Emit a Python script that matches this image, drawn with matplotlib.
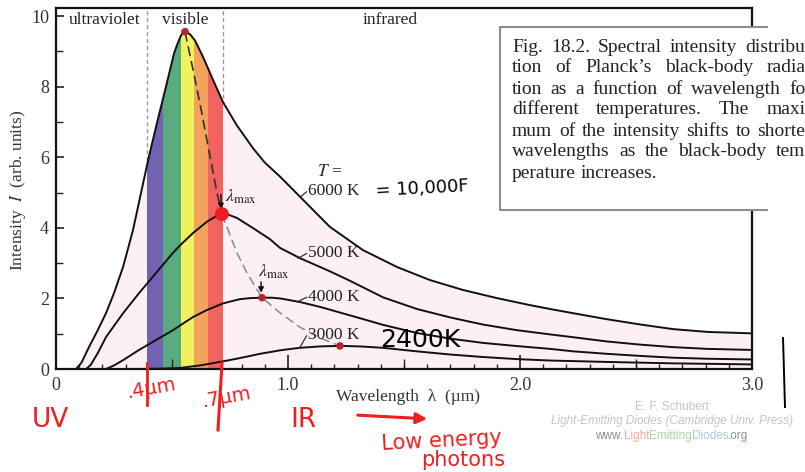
import matplotlib
matplotlib.use('Agg')
import numpy as np
import matplotlib.pyplot as plt

plt.rcParams['font.family'] = ['Liberation Serif', 'DejaVu Serif']
plt.rcParams['mathtext.fontset'] = 'stix'

# black-body curves (wavelength in um, intensity in arb. units)
wl_6000 = [0.086, 0.11, 0.142, 0.18, 0.216, 0.25, 0.289, 0.332, 0.375, 0.397, 0.431, 0.474,
           0.509, 0.52, 0.535, 0.545, 0.556, 0.568, 0.58, 0.6, 0.634, 0.677, 0.72, 0.78, 0.85,
           0.9, 0.966, 1.052, 1.18, 1.323, 1.47, 1.612, 1.754, 1.9, 2.043, 2.13, 2.23, 2.375,
           2.52, 2.66, 2.81, 3.0]
I_6000 = [0, 0.18, 0.62, 1.1, 1.59, 2.15, 2.89, 3.94, 5.25, 5.92, 6.86, 8.0,
          8.95, 9.15, 9.4, 9.52, 9.56, 9.53, 9.47, 9.3, 8.84, 8.19, 7.56, 6.9, 6.25,
          5.85, 5.45, 4.88, 4.03, 3.37, 2.89, 2.52, 2.24, 2.01, 1.81, 1.70, 1.58, 1.41,
          1.26, 1.13, 1.05, 1.01]

wl_5000 = [0.13, 0.15, 0.18, 0.216, 0.289, 0.358, 0.431, 0.504, 0.534, 0.59, 0.65, 0.69,
           0.715, 0.74, 0.78, 0.85, 0.922, 0.966, 1.052, 1.18, 1.267, 1.41, 1.556, 1.7,
           1.84, 1.987, 2.13, 2.23, 2.375, 2.52, 2.66, 2.81, 3.0]
I_5000 = [0, 0.12, 0.45, 0.91, 1.58, 2.15, 2.72, 3.29, 3.5, 3.85, 4.17, 4.33,
          4.39, 4.38, 4.28, 3.99, 3.68, 3.43, 3.14, 2.77, 2.5, 2.03, 1.7, 1.46,
          1.26, 1.1, 0.98, 0.9, 0.78, 0.69, 0.62, 0.57, 0.54]

wl_4000 = [0.215, 0.25, 0.289, 0.358, 0.431, 0.504, 0.534, 0.59, 0.65, 0.72, 0.793, 0.84,
           0.888, 0.93, 0.966, 1.05, 1.138, 1.224, 1.31, 1.41, 1.556, 1.7, 1.84, 1.987,
           2.13, 2.23, 2.375, 2.52, 2.66, 2.81, 3.0]
I_4000 = [0, 0.1, 0.25, 0.54, 0.82, 1.1, 1.23, 1.47, 1.67, 1.86, 1.98, 2.01,
          2.02, 2.02, 2.0, 1.9, 1.76, 1.6, 1.44, 1.25, 1.02, 0.86, 0.74, 0.65,
          0.57, 0.5, 0.43, 0.37, 0.32, 0.29, 0.27]

wl_3000 = [0.35, 0.45, 0.534, 0.62, 0.707, 0.793, 0.879, 0.966, 1.05, 1.138, 1.224, 1.31,
           1.41, 1.556, 1.7, 1.84, 1.987, 2.13, 2.375, 2.66, 3.0]
I_3000 = [0, 0.01, 0.03, 0.1, 0.2, 0.31, 0.43, 0.53, 0.6, 0.64, 0.655, 0.64,
          0.6, 0.5, 0.41, 0.34, 0.28, 0.24, 0.2, 0.16, 0.13]

# lambda_max locus (dashed) and the peaks
wl_dash = [0.556, 0.59, 0.62, 0.65, 0.694, 0.715, 0.737, 0.78, 0.823, 0.888, 0.966, 1.05, 1.138, 1.224]
I_dash = [9.56, 8.5, 7.54, 6.5, 4.99, 4.39, 4.02, 3.29, 2.72, 2.02, 1.59, 1.19, 0.88, 0.655]
peak_wl = [0.556, 0.715, 0.888, 1.224]
peak_I = [9.56, 4.39, 2.02, 0.655]

# visible bands
band_edges = [0.393, 0.461, 0.539, 0.595, 0.655, 0.721]
band_colors = ['#7262b2', '#58ab7c', '#f2f05c', '#f4a35c', '#f2625f']

temp_labels = ['6000 K', '5000 K', '4000 K', '3000 K']
label_y = [5.04, 3.29, 2.05, 0.96]
leader_start = [(1.052, 4.87), (1.043, 3.14), (1.039, 1.90), (1.052, 0.62)]

caption = ["Fig. 18.2. Spectral intensity distribu-",
           "tion of Planck\u2019s black-body radia-",
           "tion as a function of wavelength for",
           "different temperatures. The maxi-",
           "mum of the intensity shifts to shorter",
           "wavelengths as the black-body tem-",
           "perature increases."]

fig = plt.figure(figsize=(8.05, 4.72), dpi=100)
ax = fig.add_axes([56/805, 1-369/472, (752-56)/805, (369-8)/472])
ax.set_xlim(0, 3.0)
ax.set_ylim(0, 10.23)

pink = ax.fill_between(wl_6000, 0, I_6000, color='#fcf0f6', lw=0, zorder=1)
clip = pink.get_paths()[0]
for a, b, c in zip(band_edges[:-1], band_edges[1:], band_colors):
    sp = ax.axvspan(a, b, color=c, lw=0, zorder=2)
    sp.set_clip_path(clip, ax.transData)

for xv in [band_edges[0], band_edges[-1]]:
    ax.axvline(xv, color='#999999', lw=1, ls=(0, (3, 2)), zorder=0.5)

for wl, I in [(wl_6000, I_6000), (wl_5000, I_5000), (wl_4000, I_4000), (wl_3000, I_3000)]:
    ax.plot(wl, I, color='#111111', lw=1.4, zorder=4, solid_joinstyle='round')

ax.plot(wl_dash[:6], I_dash[:6], color='#333333', lw=1.2, ls=(0, (6, 3)), zorder=3)
ax.plot(wl_dash[5:], I_dash[5:], color='#8a8a8a', lw=1.1, ls=(0, (6, 3)), zorder=3)
ax.scatter(peak_wl, peak_I, s=[30, 100, 30, 30],
           c=['#b82530', '#f01c24', '#b82530', '#b82530'], zorder=5, lw=0)

# curve labels
ax.text(1.125, 5.58, r'$T$ =', fontsize=12.5, va='center', color='#222')
for lab, yy, (xs, ys) in zip(temp_labels, label_y, leader_start):
    ax.text(1.085, yy, lab, fontsize=12.5, va='center', color='#222')
    ax.plot([xs, 1.08], [ys, yy - 0.02], color='#333', lw=0.9, zorder=4)

ax.text(0.728, 4.87, r'$\lambda_{\rm max}$', fontsize=13, va='center', color='#222')
ax.annotate('', xy=(0.711, 4.45), xytext=(0.711, 5.02),
            arrowprops=dict(arrowstyle='-|>', color='#111', lw=1, mutation_scale=8))
ax.text(0.871, 2.75, r'$\lambda_{\rm max}$', fontsize=13, va='center', color='#222')
ax.annotate('', xy=(0.884, 2.08), xytext=(0.884, 2.55),
            arrowprops=dict(arrowstyle='-|>', color='#111', lw=1, mutation_scale=8))

for lab, xx in [('ultraviolet', 0.211), ('visible', 0.556), ('infrared', 1.44)]:
    ax.text(xx, 9.89, lab, fontsize=12.5, ha='center', va='center', color='#222')

ax.set_xticks([0, 1.0, 2.0, 3.0])
ax.set_xticklabels(['0', '1.0', '2.0', '3.0'])
ax.set_xticks(np.arange(0, 3.01, 0.1), minor=True)
ax.set_yticks([0, 2, 4, 6, 8, 10])
ax.set_yticks(np.arange(0, 10.1, 1), minor=True)
ax.tick_params(which='both', direction='in', labelsize=13, labelcolor='#333', color='#222')
ax.tick_params(axis='x', which='major', length=10, width=1.2, pad=6)
ax.tick_params(axis='x', which='minor', length=3.6, width=1.0)
ax.tick_params(axis='y', which='major', length=6, width=1.2, pad=5)
ax.tick_params(axis='y', which='minor', length=5, width=1.0)
ax.vlines([0.5, 1.5, 2.5], 0, 10/361, transform=ax.get_xaxis_transform(), color='#222', lw=1.0)
for s in ax.spines.values():
    s.set_linewidth(1.6)
    s.set_color('#111')

ax.set_xlabel('Wavelength  \u03bb  (\u00b5m)', fontsize=12.5, color='#333', va='center')
ax.xaxis.set_label_coords((408-56)/696, (369-397)/361)
ax.set_ylabel(r'Intensity  $I$  (arb. units)', fontsize=12.5, color='#333', va='center')
ax.yaxis.set_label_coords((18-56)/696, (369-190)/361)

# overlay in pixel coordinates for caption box, credits and hand-written notes
ov = fig.add_axes([0, 0, 1, 1], zorder=10)
ov.set_xlim(0, 805)
ov.set_ylim(472, 0)
ov.axis('off')
ov.patch.set_alpha(0)
ov.add_patch(plt.Rectangle((500, 27), 330, 183, facecolor='white', edgecolor='none', zorder=1))
ov.plot([767, 500, 500, 767], [27, 27, 210, 210], color='#8c8c8c', lw=1.5, zorder=2)

renderer = fig.canvas.get_renderer()
cap_fs = 14
for i, line in enumerate(caption):
    y = 47 + i * 21
    words = line.split(' ')
    ts = [ov.text(0, y, w, fontsize=cap_fs, va='center', color='#222', zorder=3) for w in words]
    ws = [t.get_window_extent(renderer).width for t in ts]
    gap = cap_fs * 0.25 * 100 / 72
    if i < len(caption) - 1:
        gap = max((812 - 512 - sum(ws)) / (len(words) - 1), gap * 0.6)
    x = 512
    for t, w in zip(ts, ws):
        t.set_x(x)
        x += w + gap

ov.text(672, 407, 'E. F. Schubert', family='Liberation Sans', fontsize=8.5,
        ha='center', va='center', color='#c4c4c4')
ov.text(672, 421, 'Light-Emitting Diodes (Cambridge Univ. Press)', family='Liberation Sans',
        fontsize=8.5, style='italic', ha='center', va='center', color='#c4c4c4')
parts = [('www.', '#8e8e8e'), ('Light', '#f2a6a0'), ('Emitting', '#a9d3a0'),
         ('Diodes', '#a3c8e2'), ('.org', '#8e8e8e')]
ts = [ov.text(0, 436, p, family='Liberation Sans', fontsize=8.5, va='center', color=c)
      for p, c in parts]
ws = [t.get_window_extent(renderer).width for t in ts]
x = 672 - sum(ws) / 2
for t, w in zip(ts, ws):
    t.set_x(x)
    x += w

red = '#f01e1e'
hand = 'DejaVu Sans'
ov.text(50, 420, 'UV', color=red, family=hand, fontsize=19, ha='center', va='center')
ov.text(303, 420, 'IR', color=red, family=hand, fontsize=19, ha='center', va='center')
ov.text(152, 388, '.4\u00b5m', color=red, family=hand, fontsize=14, ha='center', va='center', rotation=10)
ov.text(227, 397, '.7\u00b5m', color=red, family=hand, fontsize=14, ha='center', va='center', rotation=10)
ov.plot([147, 147], [363, 405], color=red, lw=2)
ov.plot([222, 218], [363, 430], color=red, lw=2.2)
ov.annotate('', xy=(430, 419), xytext=(355, 415),
            arrowprops=dict(arrowstyle='-|>', color=red, lw=2.2, mutation_scale=16))
ov.text(442, 441, 'Low energy', color=red, family=hand, fontsize=15, ha='center', va='center', rotation=3)
ov.text(463, 460, 'photons', color=red, family=hand, fontsize=15, ha='center', va='center')
ov.text(422, 189, '= 10,000F', color='black', family=hand, fontsize=13, ha='center', va='center', rotation=3)
ov.text(420, 340, '2400K', color='black', family=hand, fontsize=18, ha='center', va='center')
ov.plot([783, 785], [338, 407], color='black', lw=1.4)

fig.savefig('out.png', dpi=100)
